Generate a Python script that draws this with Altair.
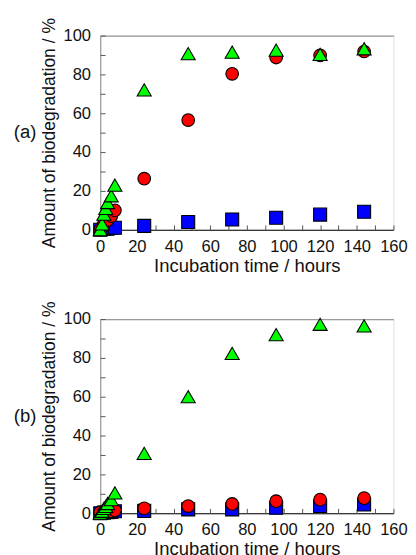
import altair as alt
import pandas as pd

FONT = "Liberation Sans"

# ---- Panel (a) ----
a_tri_t = [0, 1, 2, 3, 4, 6, 8, 24, 48, 72, 96, 120, 144]
a_tri_v = [0, 3, 8, 11, 14, 17.5, 23, 72, 90.7, 91.5, 92.5, 90.3, 93.2]
a_cir_t = [0, 2, 4, 6, 8, 24, 48, 72, 96, 120, 144]
a_cir_v = [0, 3, 5, 7, 10, 26.3, 56.5, 80.3, 88.7, 89.8, 91.8]
a_sq_t = [0, 2, 4, 6, 8, 24, 48, 72, 96, 120, 144]
a_sq_v = [0, 0.5, 0.5, 1, 1, 2, 4, 5.3, 6.2, 7.8, 9.3]

# ---- Panel (b) ----
b_tri_t = [0, 1, 2, 3, 4, 6, 8, 24, 48, 72, 96, 120, 144]
b_tri_v = [0, 1, 2.5, 3.5, 5, 7, 10.5, 30.8, 60, 82.3, 92, 97.3, 96.5]
b_cir_t = [0, 2, 4, 6, 8, 24, 48, 72, 96, 120, 144]
b_cir_v = [0.5, 0.5, 0.5, 1, 1.5, 2.5, 3.7, 4.8, 6.2, 7, 7.8]
b_sq_t = [0, 2, 4, 6, 8, 24, 48, 72, 96, 120, 144]
b_sq_v = [0, 0.3, 0.5, 0.7, 1, 1.2, 2, 2, 2.8, 3.7, 4.5]

x_major = list(range(0, 161, 20))
x_minor = list(range(0, 161, 10))
y_major = list(range(0, 101, 20))
y_minor = list(range(0, 101, 10))

W, H = 302, 200


def panel(tag, tri_t, tri_v, cir_t, cir_v, sq_t, sq_v):
    xs = alt.Scale(domain=[0, 160], nice=False)
    ys = alt.Scale(domain=[0, 100], nice=False)

    x_lab = alt.Axis(orient="bottom", values=x_major, ticks=False, grid=False,
                     labelPadding=9, domainColor="#000", domainWidth=1.2,
                     labelFontSize=17, titleFontSize=19, labelFont=FONT, titleFont=FONT,
                     labelColor="#111", titleColor="#111", titleFontWeight="normal",
                     titlePadding=3, labelFlush=False)
    y_lab = alt.Axis(orient="left", values=y_major, ticks=False, grid=False,
                     labelPadding=10, domainColor="#999", domainWidth=1.2,
                     labelFontSize=17, titleFontSize=18, labelFont=FONT, titleFont=FONT,
                     labelColor="#111", titleColor="#111", titleFontWeight="normal",
                     titlePadding=5)
    x_tick = alt.Axis(orient="top", offset=-H, values=x_minor, labels=False, domain=False,
                      grid=False, tickSize=5, tickColor="#555")
    y_tick = alt.Axis(orient="right", offset=-W, values=y_minor, labels=False, domain=False,
                      grid=False, tickSize=5, tickColor="#555")
    x_top = alt.Axis(orient="top", labels=False, ticks=False, grid=False,
                     domainColor="#999", domainWidth=1.2)

    sq = pd.DataFrame({"t": sq_t, "v": sq_v})
    cir = pd.DataFrame({"t": cir_t, "v": cir_v})
    tri = pd.DataFrame({"t": tri_t, "v": tri_v})
    lab = pd.DataFrame({"lab": [tag]})

    l_sq = alt.Chart(sq).mark_point(shape="square", filled=True, size=180,
                                    color="#0000ff", stroke="#000", strokeWidth=1.1,
                                    opacity=1).encode(
        x=alt.X("t:Q", scale=xs, axis=x_lab, title="Incubation time / hours"),
        y=alt.Y("v:Q", scale=ys, axis=y_lab, title="Amount of biodegradation / %"),
    )
    l_cir = alt.Chart(cir).mark_point(shape="circle", filled=True, size=170,
                                      color="#ff0000", stroke="#000", strokeWidth=1.1,
                                      opacity=1).encode(
        x=alt.X("t:Q", scale=xs, axis=x_tick, title=None),
        y=alt.Y("v:Q", scale=ys, axis=y_tick, title=None),
    )
    l_tri = alt.Chart(tri).mark_point(shape="triangle-up", filled=True, size=210,
                                      color="#00ff00", stroke="#000", strokeWidth=1.1,
                                      opacity=1).encode(
        x=alt.X("t:Q", scale=xs, axis=x_top, title=None),
        y=alt.Y("v:Q", scale=ys, axis=None),
    )
    l_txt = alt.Chart(lab).mark_text(align="left", baseline="middle", fontSize=19,
                                     font=FONT, color="#111").encode(
        x=alt.value(-89), y=alt.value(100), text="lab:N"
    )
    return alt.layer(l_sq, l_cir, l_tri, l_txt).resolve_axis(x="independent", y="independent").properties(
        width=W, height=H
    )


top = panel("(a)", a_tri_t, a_tri_v, a_cir_t, a_cir_v, a_sq_t, a_sq_v)
bot = panel("(b)", b_tri_t, b_tri_v, b_cir_t, b_cir_v, b_sq_t, b_sq_v)

chart = alt.vconcat(top, bot, spacing=24).properties(
    padding={"left": 5, "top": 0, "right": 0, "bottom": 0}
).configure_view(stroke="#000", strokeWidth=1.2).configure(background="white")

chart.save("out.html", embed_options={"renderer": "svg", "actions": False})
